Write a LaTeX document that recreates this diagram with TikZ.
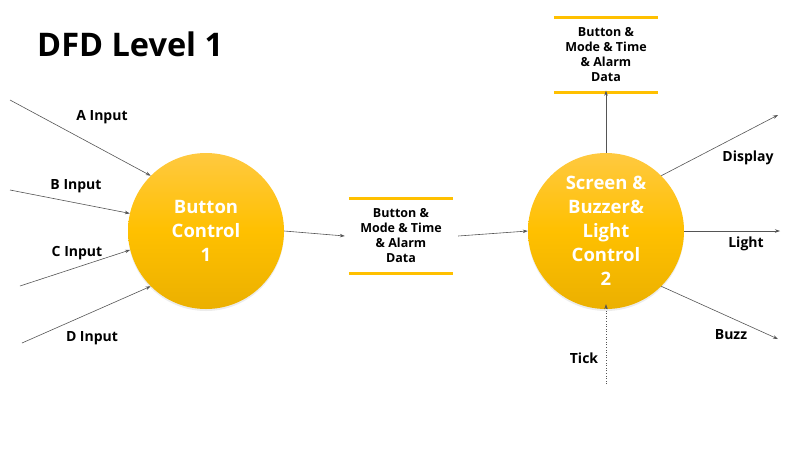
\documentclass[tikz,border=0pt]{standalone}
\usepackage{fontspec}
\setmainfont{Open Sans}
\usetikzlibrary{arrows.meta,shadows}
\definecolor{procTop}{HTML}{FFC940}
\definecolor{procMid}{HTML}{FFC000}
\definecolor{procBot}{HTML}{EBB000}
\definecolor{storeLine}{HTML}{FFC000}
\definecolor{flowGray}{HTML}{555555}
\tikzset{
  process/.style={circle, minimum size=156pt, inner sep=0pt,
    top color=procTop, bottom color=procBot, middle color=procMid,
    drop shadow={opacity=0.15, shadow xshift=0pt, shadow yshift=-2pt},
    text=white, font=\bfseries\fontsize{18.5}{24}\selectfont, align=center},
  store/.style={minimum width=104pt, minimum height=75pt, inner sep=0pt,
    font=\bfseries\fontsize{12.5}{15}\selectfont, align=center},
  flow/.style={draw=flowGray, line width=0.6pt, -{Stealth[length=5pt,width=3.5pt]}},
  tickflow/.style={flow, dotted},
  lbl/.style={font=\bfseries\fontsize{14}{16}\selectfont, inner sep=0pt},
  bar/.style={draw=storeLine, line width=2.8pt}
}
\begin{document}
\begin{tikzpicture}[x=1pt,y=-1pt]
\useasboundingbox (0,0) rectangle (785,448);

\node[font=\bfseries\fontsize{32.5}{36}\selectfont, anchor=west, inner sep=0pt] (title) at (37,44) {DFD Level 1};

% processes
\node[process] (p1) at (206,231) {Button\\Control\\1};
\node[process] (p2) at (606,231) {Screen \&\\Buzzer\&\\Light\\Control\\2};

% data stores
\node[store] (s1) at (401,236) {Button \&\\Mode \& Time\\\& Alarm\\Data};
\draw[bar] (s1.north west) -- (s1.north east);
\draw[bar] (s1.south west) -- (s1.south east);
\node[store] (s2) at (606,55) {Button \&\\Mode \& Time\\\& Alarm\\Data};
\draw[bar] (s2.north west) -- (s2.north east);
\draw[bar] (s2.south west) -- (s2.south east);

% external input ends
\coordinate (ain) at (10,100);
\coordinate (bin) at (10,190);
\coordinate (cin) at (20,286);
\coordinate (din) at (22,343);
\coordinate (dispOut) at (778,115);
\coordinate (lightOut) at (780,231);
\coordinate (buzzOut) at (778,339);
\coordinate (tickIn) at (606,384);

% inputs
\draw[flow] (ain) -- (p1.135);
\draw[flow] (bin) -- (p1.167);
\draw[flow] (cin) -- (p1.194);
\draw[flow] (din) -- (p1.225);
\node[lbl] (la) at (102,117) {A Input};
\node[lbl] (lb) at (76,186) {B Input};
\node[lbl] (lc) at (77,253) {C Input};
\node[lbl] (ld) at (92,338) {D Input};

% flows between process and stores
\draw[flow] (p1.east) -- ([xshift=-4pt]s1.west);
\draw[flow] ([xshift=5pt]s1.east) -- (p2.west);
\draw[flow] (p2.north) -- ([yshift=2pt]s2.south);

% outputs
\draw[flow] (p2.45) -- (dispOut);
\draw[flow] (p2.east) -- (lightOut);
\draw[flow] (p2.-45) -- (buzzOut);
\node[lbl] (ldisp) at (748,158) {Display};
\node[lbl] (llight) at (746,244) {Light};
\node[lbl] (lbuzz) at (731,335) {Buzz};

% clock tick
\draw[tickflow] (tickIn) -- ([yshift=5pt]p2.south);
\node[lbl] (ltick) at (584,358) {Tick};
\end{tikzpicture}
\end{document}
